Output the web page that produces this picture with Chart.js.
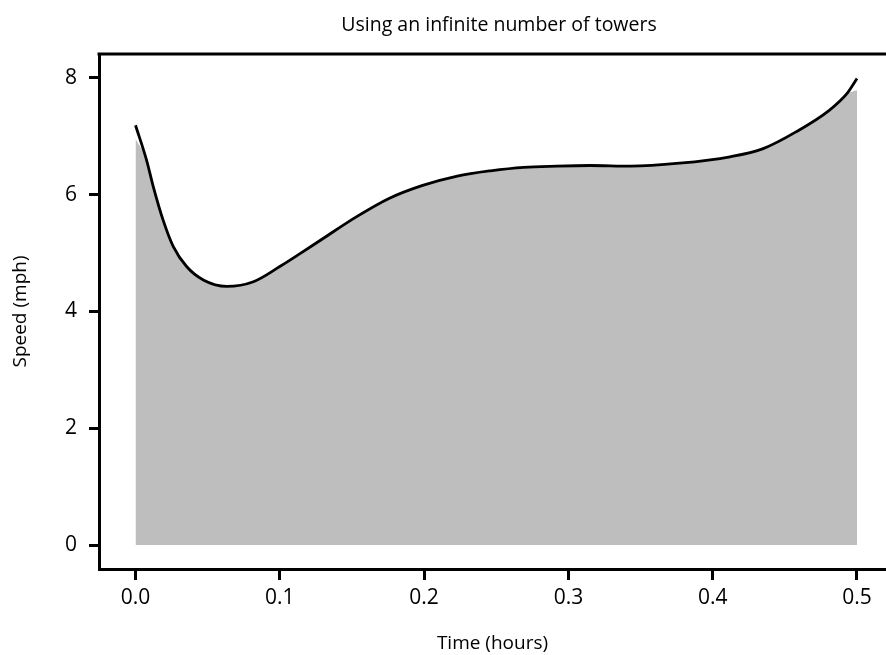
<!DOCTYPE html>
<html>
<head>
<meta charset="utf-8">
<script src="https://cdn.jsdelivr.net/npm/chart.js@4.4.1/dist/chart.umd.min.js"></script>
<style>
  html, body { margin: 0; padding: 0; background: #fff; overflow: hidden; }
  canvas { display: block; }
</style>
</head>
<body>
<canvas id="c" width="886" height="655"></canvas>
<script>
// ---- data ----
const chartTitle = "Using an infinite number of towers";
const xTitle = "Time (hours)";
const yTitle = "Speed (mph)";
const time  = [0, 0.0077, 0.0123, 0.0192, 0.0262, 0.0354, 0.047, 0.0632, 0.0817, 0.1, 0.114, 0.130, 0.153, 0.176, 0.199, 0.223, 0.246, 0.269, 0.292, 0.315, 0.343, 0.377, 0.412, 0.435, 0.458, 0.481, 0.493, 0.5];
const speed = [7.19, 6.59, 6.14, 5.56, 5.11, 4.77, 4.54, 4.43, 4.51, 4.77, 4.99, 5.25, 5.62, 5.94, 6.16, 6.32, 6.41, 6.47, 6.49, 6.50, 6.49, 6.54, 6.65, 6.79, 7.08, 7.45, 7.73, 7.99];
const fillTop = [6.96, 6.59, 6.14, 5.56, 5.11, 4.77, 4.54, 4.43, 4.51, 4.77, 4.99, 5.25, 5.62, 5.94, 6.16, 6.32, 6.41, 6.47, 6.49, 6.50, 6.49, 6.54, 6.65, 6.79, 7.08, 7.45, 7.73, 7.79];
const xTicks = [0, 0.1, 0.2, 0.3, 0.4, 0.5];
const yTicks = [0, 2, 4, 6, 8];

const FONT = "'Open Sans'";
const lineData = time.map((t, i) => ({ x: t, y: speed[i] }));
const areaData = time.map((t, i) => ({ x: t, y: fillTop[i] }));

// top edge of the plot box + main title centred over the plot region
const boxPlugin = {
  id: 'boxPlugin',
  afterDatasetsDraw(chart) {
    const { ctx, chartArea: a } = chart;
    ctx.save();
    ctx.strokeStyle = '#000';
    ctx.lineWidth = 3;
    ctx.beginPath();
    ctx.moveTo(a.left - 1.5, a.top);
    ctx.lineTo(a.right + 2, a.top);
    ctx.stroke();
    ctx.fillStyle = '#000';
    ctx.font = "19.5px " + FONT;
    ctx.textAlign = 'center';
    ctx.textBaseline = 'middle';
    ctx.fillText(chartTitle, 499, 25);
    ctx.restore();
  }
};

new Chart(document.getElementById('c'), {
  type: 'line',
  data: {
    datasets: [
      { label: 'speed', data: lineData, borderColor: '#000', borderWidth: 2.8, pointRadius: 0,
        fill: false, cubicInterpolationMode: 'monotone', order: 0 },
      { label: 'area', data: areaData, borderWidth: 0, borderColor: 'rgba(0,0,0,0)', backgroundColor: '#bebebe',
        pointRadius: 0, fill: 'origin', cubicInterpolationMode: 'monotone', order: 1 }
    ]
  },
  options: {
    responsive: false,
    animation: false,
    events: [],
    layout: { padding: { top: 54, left: 0, right: 0, bottom: 0 } },
    plugins: {
      legend: { display: false },
      tooltip: { enabled: false },
      title: { display: false }
    },
    scales: {
      x: {
        type: 'linear', min: -0.0253, max: 0.5201,
        afterBuildTicks: s => { s.ticks = xTicks.map(v => ({ value: v })); },
        afterFit: s => { s.height = 86; s.paddingLeft = 0; s.paddingRight = 0; },
        ticks: { color: '#000', font: { family: FONT, size: 21 }, padding: 5,
          callback: v => v.toFixed(1), maxRotation: 0, autoSkip: false },
        grid: { drawOnChartArea: false, drawTicks: true, tickLength: 11, tickWidth: 3, tickColor: '#000' },
        border: { display: true, color: '#000', width: 3 },
        title: { display: true, text: xTitle, color: '#000', font: { family: FONT, size: 19 }, padding: { top: 0, bottom: 0 } }
      },
      y: {
        type: 'linear', min: -0.41, max: 8.41,
        afterBuildTicks: s => { s.ticks = yTicks.map(v => ({ value: v })); },
        afterFit: s => { s.width = 99; s.paddingTop = 0; s.paddingBottom = 0; },
        ticks: { color: '#000', font: { family: FONT, size: 21 }, padding: 12,
          callback: v => String(v), autoSkip: false },
        grid: { drawOnChartArea: false, drawTicks: true, tickLength: 10, tickWidth: 3, tickColor: '#000' },
        border: { display: true, color: '#000', width: 3 },
        title: { display: true, text: yTitle, color: '#000', font: { family: FONT, size: 19 }, padding: { top: 9, bottom: 0 } }
      }
    }
  },
  plugins: [boxPlugin]
});
</script>
</body>
</html>
